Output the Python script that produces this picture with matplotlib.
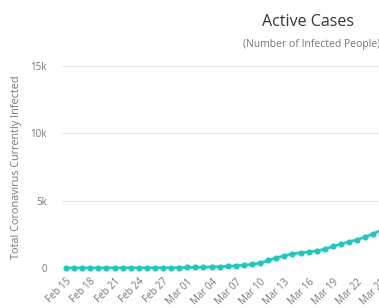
import matplotlib
matplotlib.use('Agg')
import matplotlib.pyplot as plt

plt.rcParams['font.family'] = ['Open Sans', 'DejaVu Sans']

# active cases per day, starting Feb 15
active = [10, 10, 10, 10, 10, 12, 12, 15, 15, 15, 18, 18, 20, 25,
          30, 40, 50, 60, 80, 100, 130, 170, 200, 280, 370, 560, 750, 920,
          1050, 1130, 1200, 1270, 1400, 1600, 1780, 1950, 2100, 2300, 2550, 2800]
tick_labels = ['Feb 15', 'Feb 18', 'Feb 21', 'Feb 24', 'Feb 27', 'Mar 01', 'Mar 04',
               'Mar 07', 'Mar 10', 'Mar 13', 'Mar 16', 'Mar 19', 'Mar 22', 'Mar 25']
y_ticks = [0, 5000, 10000, 15000]
y_labels = ['0', '5k', '10k', '15k']

W, H = 379, 308
fig = plt.figure(figsize=(W / 100, H / 100), dpi=100)
# the chart is cropped on the right, so the axes run past the figure edge
ax = fig.add_axes([62 / W, 40 / H, 1.6, (268 - 66) / H])

days = list(range(len(active)))
ax.plot(days, active, color='#26CCC4', lw=2, marker='o', ms=3.4,
        mec='#22c6be', mfc='#22c6be', clip_on=False, zorder=3)

ax.set_xlim(-0.5, 74.5)
ax.set_ylim(0, 15000)
ax.set_yticks(y_ticks)
ax.set_yticklabels(y_labels)
ax.set_xticks(range(0, 3 * len(tick_labels), 3))
ax.set_xticklabels(tick_labels, rotation=45, ha='right', rotation_mode='anchor')
ax.tick_params(axis='x', length=0, pad=6, labelsize=7, labelcolor='#777777')
ax.tick_params(axis='y', length=0, pad=11, labelsize=7, labelcolor='#777777')
ax.grid(axis='y', color='#e6e6e6', lw=0.8)
ax.set_axisbelow(True)
for s in ax.spines.values():
    s.set_visible(False)

fig.text(17 / W, 1 - 167 / H, 'Total Coronavirus Currently Infected', rotation=90,
         ha='center', va='center', fontsize=7.8, color='#777777')
fig.text(308 / W, 1 - 22 / H, 'Active Cases', ha='center', va='center',
         fontsize=11.5, color='#333333')
fig.text(312 / W, 1 - 45 / H, '(Number of Infected People)', ha='center',
         va='center', fontsize=7.5, color='#777777')

fig.savefig('out.png', dpi=100)
